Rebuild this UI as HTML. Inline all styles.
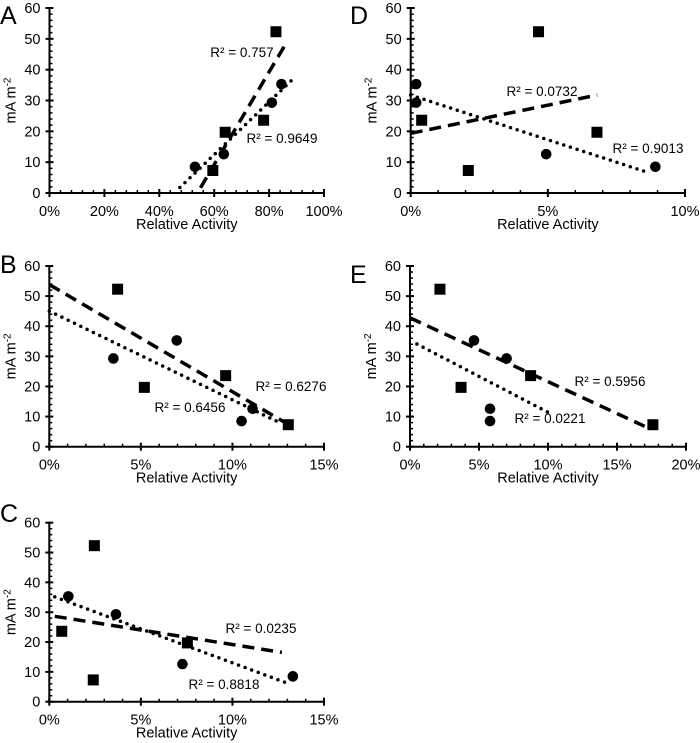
<!DOCTYPE html>
<html><head><meta charset="utf-8">
<style>
body{margin:0;background:#fff;}
svg{display:block;font-family:"Liberation Sans",Arial,sans-serif;}
</style></head>
<body>
<svg id="fig" width="700" height="743" viewBox="0 0 700 743" xmlns="http://www.w3.org/2000/svg"></svg>
<script>
// ---- data (percent relative activity, current density mA m^-2) ----
const panelIds = ["A","B","C","D","E"];
const xMaxes = [100, 15, 15, 10, 20];
const xMajor = [20, 5, 5, 5, 5];
const xMinor = [4, 1, 1, 1, 1];
const yTicks = [0,10,20,30,40,50,60];
const squaresX = [[82.5,78,64,59.5],[3.73,5.19,9.63,13.05],[2.46,0.68,2.4,7.54],[4.66,0.4,2.1,6.79],[2.17,3.7,8.74,17.6]];
const squaresY = [[52.3,23.6,19.7,7.3],[52.3,19.7,23.6,7.3],[52.3,23.6,7.3,19.7],[52.3,23.6,7.3,19.7],[52.3,19.7,23.6,7.3]];
const circlesX = [[53,63.5,81,84.5],[3.5,6.96,10.5,11.1],[1.04,3.64,7.27,13.3],[0.2,0.2,4.94,8.92],[4.64,7.0,5.8,5.8]];
const circlesY = [[8.5,12.6,29.3,35.3],[29.3,35.3,8.5,12.6],[35.3,29.3,12.6,8.5],[35.3,29.3,12.6,8.5],[35.3,29.3,12.6,8.5]];
const dashRange = [[55,86],[0,13],[0.3,12.7],[0,6.8],[0,17]];
const dotRange = [[47.5,88],[0,12.5],[0.3,13],[0,8.7],[0.5,10]];
const r2Dash = ["R² = 0.757","R² = 0.6276","R² = 0.0235","R² = 0.0732","R² = 0.5956"];
const r2Dot = ["R² = 0.9649","R² = 0.6456","R² = 0.8818","R² = 0.9013","R² = 0.0221"];

// ---- layout ----
const frames = [
 {x0:49.5,x1:324,y0:193,y1:8, lx:0,ly:24, dashL:[242,52],dotL:[282,138]},
 {x0:49.3,x1:324,y0:446.7,y1:266, lx:0,ly:273, dashL:[291,386],dotL:[190,407]},
 {x0:49.3,x1:324,y0:701.7,y1:522.7, lx:0,ly:522, dashL:[261,628],dotL:[224,684]},
 {x0:410.7,x1:685,y0:193,y1:8, lx:350,ly:24, dashL:[542,91],dotL:[648,148]},
 {x0:410,x1:686,y0:446.7,y1:266, lx:350,ly:283, dashL:[610,381],dotL:[550,418]}
];
const NS="http://www.w3.org/2000/svg";
const svg=document.getElementById('fig');
function mk(tag,attrs,parent){const e=document.createElementNS(NS,tag);for(const k in attrs)e.setAttribute(k,attrs[k]);(parent||svg).appendChild(e);return e;}
function fit(xs,ys){const n=xs.length;let mx=0,my=0;for(let i=0;i<n;i++){mx+=xs[i];my+=ys[i];}mx/=n;my/=n;let sxy=0,sxx=0;for(let i=0;i<n;i++){sxy+=(xs[i]-mx)*(ys[i]-my);sxx+=(xs[i]-mx)**2;}const b=sxy/sxx;return [my-b*mx,b];}

panelIds.forEach((id,p)=>{
  const f=frames[p];
  const g=mk('g',{});
  
  
  const sx=v=>f.x0+(v/xMaxes[p])*(f.x1-f.x0);
  const sy=v=>f.y0-(v/60)*(f.y0-f.y1);
  const L=mk('text',{x:f.lx,y:f.ly,'font-size':25,fill:'#000'},g);L.textContent=id;
  
  
  const ax=mk('path',{d:`M${f.x0},${f.y1-1}V${f.y0}H${f.x1}`,stroke:'#000','stroke-width':2,fill:'none'},g);
  
  
  for(let v=0;v<=60;v+=2){const y=sy(v);if(v%10===0)mk('line',{x1:f.x0-4,x2:f.x0+4,y1:y,y2:y,stroke:'#000','stroke-width':2},g);else mk('line',{x1:f.x0,x2:f.x0+3,y1:y,y2:y,stroke:'#000','stroke-width':1.5},g);}
  yTicks.forEach(v=>{const t=mk('text',{x:f.x0-9,y:sy(v)+5,'font-size':14.5,'text-anchor':'end',fill:'#000'},g);t.textContent=v;
    
    });
  for(let v=0;v<=xMaxes[p]+1e-9;v+=xMinor[p]){const x=sx(v);const maj=Math.abs(v/xMajor[p]-Math.round(v/xMajor[p]))<1e-6;
    if(maj){mk('line',{x1:x,x2:x,y1:f.y0-4,y2:f.y0+4,stroke:'#000','stroke-width':2},g);
      const t=mk('text',{x:x,y:f.y0+23,'font-size':14.5,'text-anchor':'middle',fill:'#000'},g);t.textContent=Math.round(v)+'%';
      
      }
    else mk('line',{x1:x,x2:x,y1:f.y0-3,y2:f.y0,stroke:'#000','stroke-width':1.5},g);}
  const xt=mk('text',{x:(f.x0+f.x1)/2,y:f.y0+36,'font-size':14.5,'text-anchor':'middle',fill:'#000'},g);xt.textContent='Relative Activity';
  
  
  const yc=(f.y0+f.y1)/2, yx=f.x0-34;
  const yt=mk('text',{x:yx,y:yc,'font-size':14.5,'text-anchor':'middle',fill:'#000',transform:`rotate(-90 ${yx} ${yc})`},g);
  yt.innerHTML='mA m<tspan dy="-5" font-size="10">-2</tspan>';
  
  
  const [a1,b1]=fit(squaresX[p],squaresY[p]);
  const dl=mk('line',{x1:sx(dashRange[p][0]),y1:sy(a1+b1*dashRange[p][0]),x2:sx(dashRange[p][1]),y2:sy(a1+b1*dashRange[p][1]),stroke:'#000','stroke-width':3.5,'stroke-dasharray':'12 7'},g);
  
  
  const [a2,b2]=fit(circlesX[p],circlesY[p]);
  const ol=mk('line',{x1:sx(dotRange[p][0]),y1:sy(a2+b2*dotRange[p][0]),x2:sx(dotRange[p][1]),y2:sy(a2+b2*dotRange[p][1]),stroke:'#000','stroke-width':3.5,'stroke-dasharray':'0 7','stroke-linecap':'round'},g);
  
  
  squaresX[p].forEach((xv,i)=>{const s=mk('rect',{x:sx(xv)-5.5,y:sy(squaresY[p][i])-5.5,width:11,height:11,fill:'#000'},g);
    
    });
  circlesX[p].forEach((xv,i)=>{const c=mk('circle',{cx:sx(xv),cy:sy(circlesY[p][i]),r:5.3,fill:'#000'},g);
    
    });
  const t1=mk('text',{x:f.dashL[0],y:f.dashL[1]+5,'font-size':13.5,'text-anchor':'middle',fill:'#000'},g);t1.textContent=r2Dash[p];
  
  
  const t2=mk('text',{x:f.dotL[0],y:f.dotL[1]+5,'font-size':13.5,'text-anchor':'middle',fill:'#000'},g);t2.textContent=r2Dot[p];
  
  
});
</script>
</body></html>
